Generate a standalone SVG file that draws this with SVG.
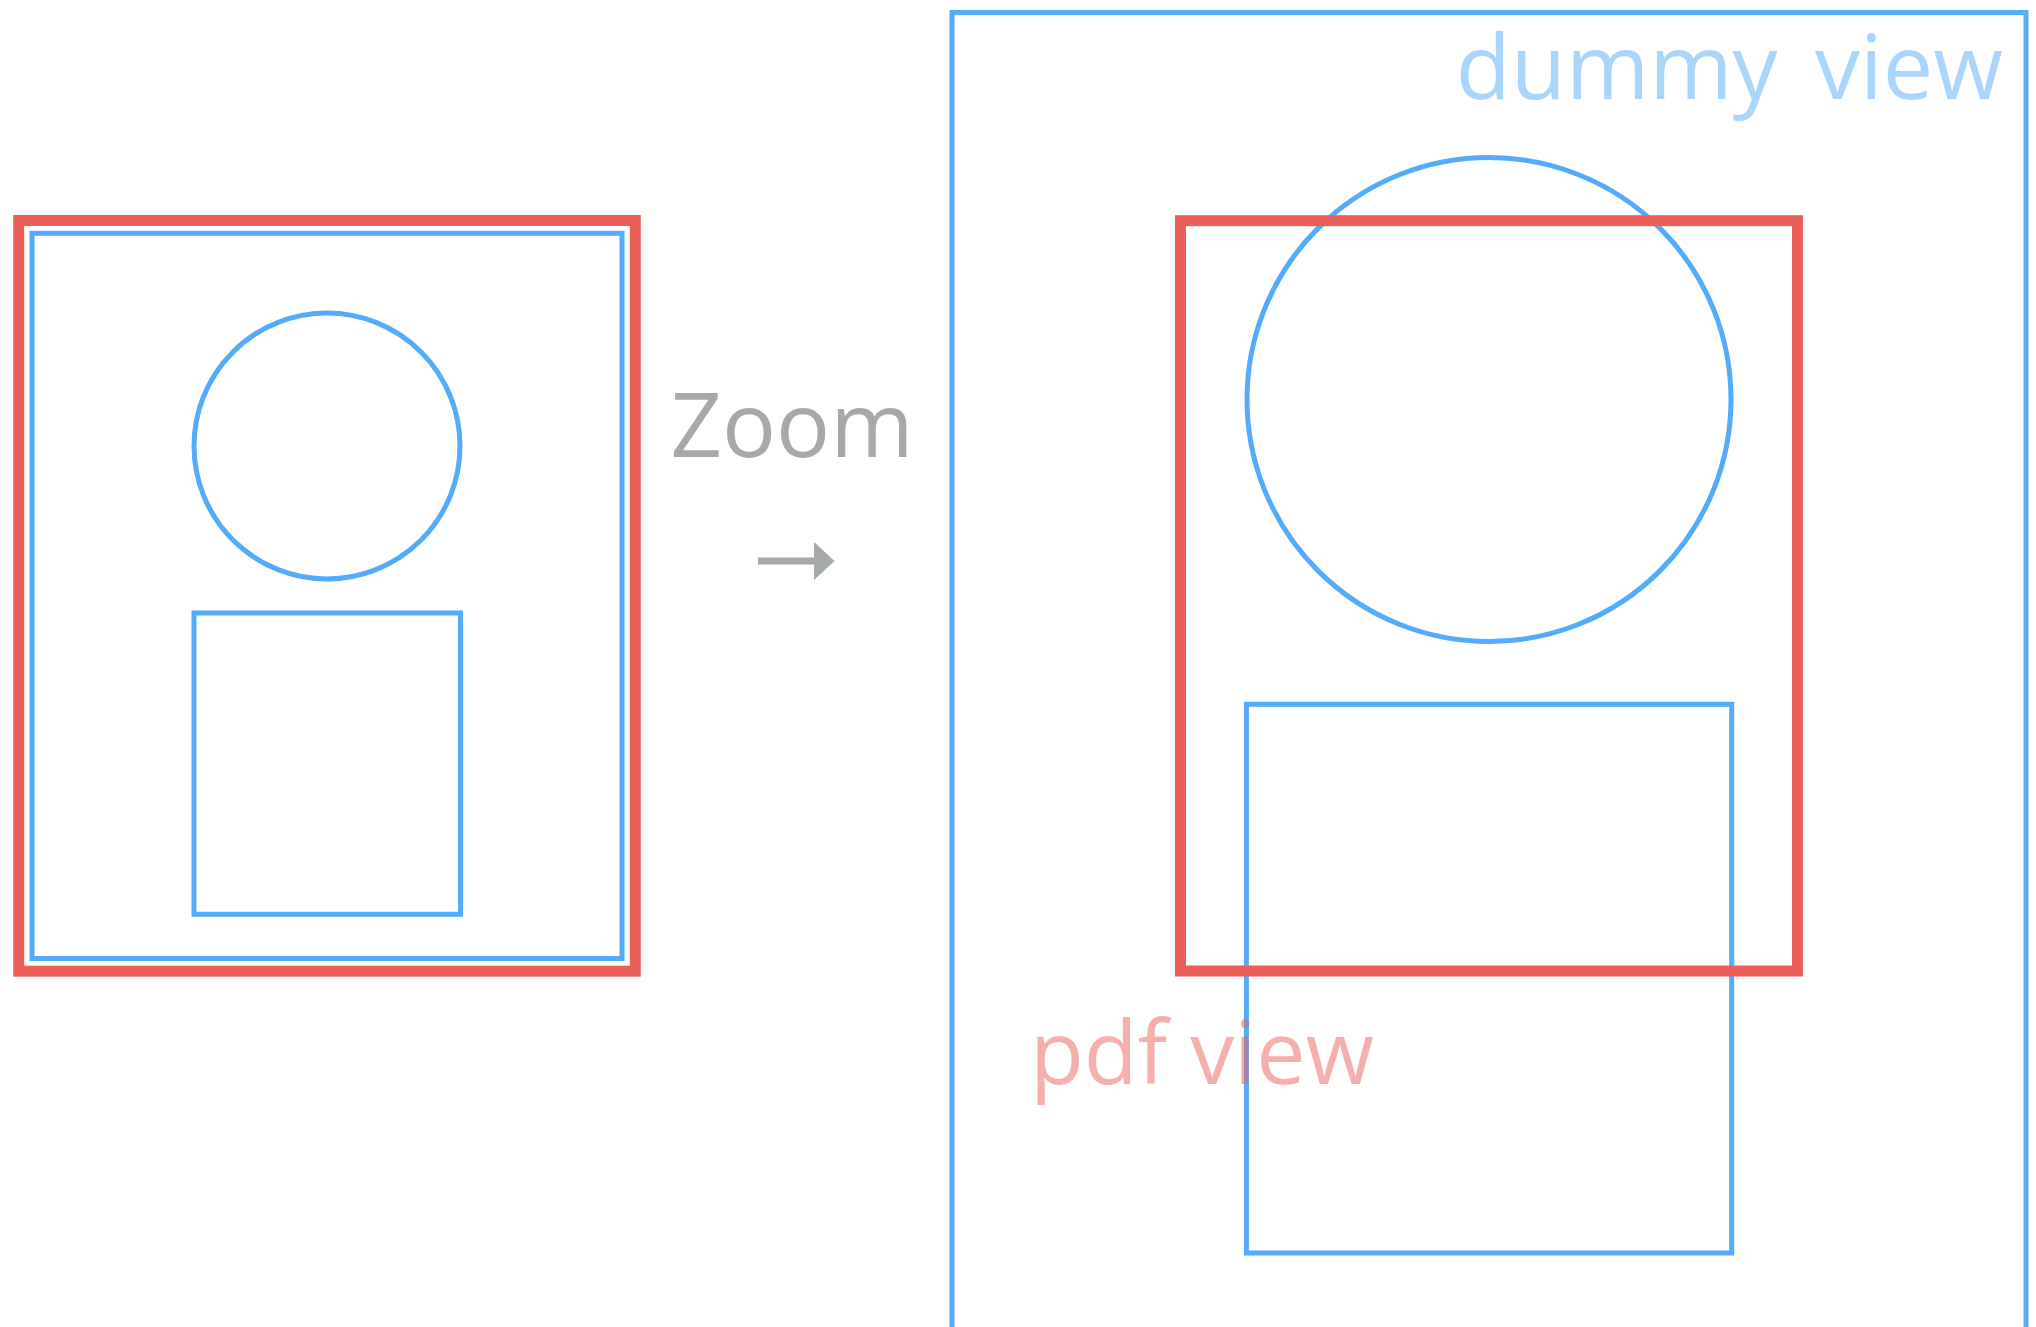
<svg xmlns="http://www.w3.org/2000/svg" width="2036" height="1327" viewBox="0 0 2036 1327">
  <style>
    .pdf { fill: none; stroke: #EC5F59; stroke-width: 11; }
    .blue { fill: none; stroke: #53ABFB; stroke-width: 5; }
    .lbl { font-family: "Open Sans", "Liberation Sans", sans-serif; font-size: 90px; }
    .arrow { fill: none; stroke: #A5AAA8; stroke-width: 7; }
  </style>
  <defs>
    <marker id="head" markerUnits="userSpaceOnUse" viewBox="0 0 21 39" refX="0.5" refY="19.5" markerWidth="21" markerHeight="39" orient="auto">
      <path d="M0,0 L21,19.5 L0,39 Z" fill="#A5AAA8"/>
    </marker>
  </defs>
  <rect width="2036" height="1327" fill="#FFFFFF"/>
  <g id="before">
    <g id="pdf-view-left"><rect class="pdf" x="18.7" y="220.5" width="616.6" height="750.7"/></g>
    <g id="dummy-view-left"><rect class="blue" x="32" y="233.3" width="590" height="725.2"/></g>
    <g id="circle-left"><circle class="blue" cx="327" cy="446" r="133"/></g>
    <g id="box-left"><rect class="blue" x="194" y="613" width="266.5" height="301.3"/></g>
  </g>
  <g id="zoom-label">
    <text class="lbl" x="792" y="457" text-anchor="middle" fill="#A5AAA8">Zoom</text>
  </g>
  <g id="connectors">
    <line class="arrow" x1="758" y1="561" x2="814" y2="561" marker-end="url(#head)"/>
  </g>
  <g id="after">
    <g id="dummy-view-right"><rect class="blue" x="952" y="12.5" width="1074" height="1400"/></g>
    <g id="circle-right"><circle class="blue" cx="1489" cy="399.5" r="242"/></g>
    <g id="box-right"><rect class="blue" x="1246.4" y="704.3" width="485.3" height="548.7"/></g>
    <g id="pdf-view-right"><rect class="pdf" x="1180.5" y="220.7" width="617" height="750.3"/></g>
    <g id="dummy-view-label">
      <text class="lbl" x="2003" y="99" text-anchor="end" fill="#53ABFB" fill-opacity="0.5" word-spacing="14">dummy view</text>
    </g>
    <g id="pdf-view-label">
      <text class="lbl" x="1030" y="1084" fill="#EC5F59" fill-opacity="0.5" style="font-size:88px">pdf view</text>
    </g>
  </g>
</svg>
